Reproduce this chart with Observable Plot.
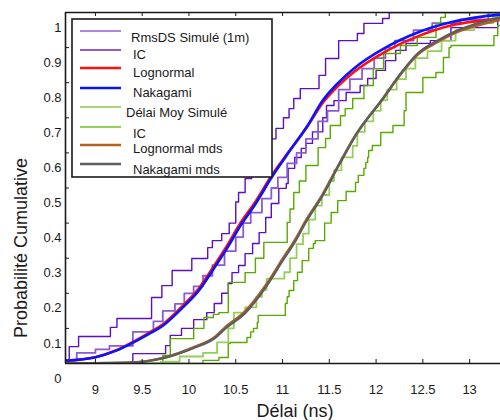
<!DOCTYPE html>
<html><head><meta charset="utf-8">
<script src="https://cdn.jsdelivr.net/npm/d3@7"></script>
<script src="https://cdn.jsdelivr.net/npm/@observablehq/plot@0.6"></script>
<style>body{margin:0;background:#fff}#chart{width:500px;height:420px}</style>
</head><body><div id="chart"></div>
<script>
// ---------- data ----------
const xTicks = [9, 9.5, 10, 10.5, 11, 11.5, 12, 12.5, 13];
const yTicks = [0, 0.1, 0.2, 0.3, 0.4, 0.5, 0.6, 0.7, 0.8, 0.9, 1];
const xTitle = "Délai (ns)";
const yTitle = "Probabilité Cumulative";

// RmsDS empirical CDF and its confidence bounds (steps: [x, F])
const rmsUpper = [[8.68,0],[8.72,0.048],[8.82,0.077],[9.16,0.103],[9.23,0.128],[9.60,0.188],[9.71,0.222],[9.82,0.265],[10.03,0.299],[10.20,0.33],[10.25,0.35],[10.35,0.37],[10.43,0.40],[10.50,0.46],[10.53,0.487],[10.60,0.527],[10.67,0.56],[10.75,0.60],[10.84,0.64],[10.93,0.67],[11.01,0.70],[11.07,0.726],[11.12,0.755],[11.19,0.783],[11.39,0.821],[11.46,0.869],[11.60,0.92],[11.80,0.94],[11.87,0.969],[12.07,0.983],[12.14,1.0],[13.33,1.0]];
const rmsEmp = [[8.68,0.01],[8.80,0.03],[9.00,0.04],[9.15,0.05],[9.40,0.09],[9.62,0.12],[9.72,0.15],[9.85,0.17],[9.95,0.20],[10.05,0.22],[10.15,0.25],[10.25,0.28],[10.38,0.32],[10.50,0.36],[10.58,0.40],[10.66,0.43],[10.78,0.47],[10.88,0.50],[10.95,0.53],[11.05,0.57],[11.15,0.60],[11.25,0.64],[11.38,0.69],[11.48,0.72],[11.60,0.78],[11.72,0.81],[11.85,0.84],[11.98,0.87],[12.10,0.90],[12.20,0.92],[12.40,0.95],[12.60,0.97],[12.90,0.98],[13.20,1.0],[13.33,1.0]];
const rmsLower = [[8.68,0],[9.40,0.028],[9.75,0.051],[9.80,0.08],[9.92,0.10],[10.05,0.125],[10.19,0.145],[10.27,0.171],[10.35,0.20],[10.42,0.228],[10.46,0.259],[10.53,0.279],[10.60,0.313],[10.68,0.342],[10.75,0.373],[10.82,0.416],[10.88,0.456],[10.96,0.499],[11.04,0.513],[11.06,0.556],[11.13,0.587],[11.20,0.613],[11.25,0.627],[11.32,0.66],[11.43,0.70],[11.47,0.735],[11.55,0.749],[11.68,0.772],[11.83,0.792],[11.91,0.812],[12.00,0.835],[12.10,0.863],[12.21,0.892],[12.32,0.912],[12.58,0.92],[12.80,0.957],[13.30,0.98],[13.33,0.98]];

// Mean delay empirical CDF and its confidence bounds
const mdsUpper = [[8.68,0],[9.72,0.023],[9.80,0.071],[10.05,0.10],[10.16,0.131],[10.26,0.14],[10.32,0.145],[10.42,0.231],[10.60,0.259],[10.71,0.30],[10.80,0.345],[11.05,0.402],[11.08,0.44],[11.12,0.487],[11.18,0.52],[11.25,0.564],[11.38,0.615],[11.46,0.641],[11.51,0.678],[11.62,0.706],[11.67,0.726],[11.75,0.755],[11.87,0.792],[11.97,0.84],[12.08,0.883],[12.26,0.906],[12.44,0.929],[12.64,0.969],[12.69,0.986],[12.74,1.0],[13.33,1.0]];
const mdsEmp = [[8.68,0],[9.70,0.005],[9.90,0.02],[10.15,0.03],[10.30,0.06],[10.42,0.10],[10.48,0.145],[10.60,0.16],[10.72,0.19],[10.78,0.21],[10.83,0.242],[11.02,0.26],[11.08,0.30],[11.15,0.34],[11.22,0.37],[11.28,0.41],[11.35,0.45],[11.42,0.48],[11.50,0.52],[11.55,0.55],[11.63,0.587],[11.75,0.62],[11.80,0.66],[11.88,0.69],[11.97,0.72],[12.05,0.75],[12.12,0.78],[12.22,0.81],[12.32,0.84],[12.42,0.87],[12.55,0.89],[12.70,0.92],[12.85,0.95],[13.05,0.97],[13.25,0.99],[13.33,0.99]];
const mdsLower = [[8.68,0],[10.15,0.009],[10.32,0.017],[10.42,0.057],[10.44,0.06],[10.62,0.074],[10.66,0.09],[10.69,0.10],[10.73,0.117],[10.74,0.137],[11.03,0.171],[11.05,0.19],[11.07,0.208],[11.12,0.236],[11.16,0.26],[11.21,0.293],[11.28,0.328],[11.33,0.342],[11.35,0.35],[11.45,0.40],[11.52,0.43],[11.59,0.464],[11.68,0.49],[11.78,0.516],[11.81,0.536],[11.87,0.556],[11.89,0.573],[11.91,0.587],[11.92,0.607],[11.96,0.621],[12.05,0.658],[12.18,0.678],[12.30,0.72],[12.32,0.772],[12.50,0.815],[12.64,0.829],[12.72,0.872],[12.78,0.90],[12.80,0.906],[13.26,0.934],[13.30,0.963],[13.33,0.963]];

// Fitted CDFs
const fitX = [8.68, 9.0, 9.215, 9.397, 9.568, 9.717, 9.931, 10.102, 10.284, 10.423, 10.53, 10.712, 10.894, 11.065, 11.268, 11.429, 11.6, 11.76, 12.081, 12.445, 12.798, 13.151, 13.332];
const lognormY = [0.008, 0.018, 0.037, 0.061, 0.087, 0.111, 0.164, 0.213, 0.285, 0.343, 0.392, 0.462, 0.540, 0.603, 0.676, 0.742, 0.792, 0.830, 0.886, 0.932, 0.963, 0.978, 0.984];
const nakaY = [0.008, 0.018, 0.036, 0.059, 0.084, 0.107, 0.159, 0.207, 0.278, 0.335, 0.384, 0.455, 0.535, 0.601, 0.678, 0.749, 0.801, 0.840, 0.897, 0.943, 0.972, 0.989, 0.994];
const fitMdsX = [8.68, 9.397, 9.75, 10.038, 10.284, 10.391, 10.605, 10.819, 11.001, 11.14, 11.247, 11.429, 11.60, 11.782, 12.081, 12.263, 12.445, 12.659, 12.873, 13.086, 13.332];
const lognormMdsY = [0.0, 0.003, 0.018, 0.045, 0.077, 0.104, 0.150, 0.222, 0.298, 0.355, 0.406, 0.482, 0.566, 0.651, 0.757, 0.824, 0.880, 0.916, 0.945, 0.963, 0.979];
const nakaMdsY = [0.0, 0.003, 0.017, 0.043, 0.074, 0.100, 0.145, 0.217, 0.293, 0.350, 0.402, 0.479, 0.564, 0.650, 0.758, 0.826, 0.883, 0.920, 0.949, 0.969, 0.986];

const legendLabels = ["RmsDS Simulé (1m)", "IC", "Lognormal", "Nakagami", "Délai Moy Simulé", "IC", "Lognormal mds", "Nakagami mds"];
// ---------- styles ----------
const C = {pDark:"#5c0fc4", pLight:"#8c5ad2", red:"#ff1010", blue:"#0a14ff", gDark:"#58aa00", gLight:"#92d05a", brown:"#b4601e", gray:"#5e5e5e"};
const legendStyles = [[C.pDark,1],[C.pLight,2],[C.red,2.5],[C.blue,2.5],[C.gDark,1],[C.gLight,2],[C.brown,2.5],[C.gray,2.5]];

const pairs = (xs, ys) => xs.map((x, i) => [x, ys[i]]);
const X = d => d[0], Y = d => d[1];
const xDom = [8.68, 13.33];
const tickLenX = 4 / 93.55, tickLenY = 4 / 351;
const font = "'Liberation Sans', Arial, sans-serif";

const chart = Plot.plot({
  width: 500, height: 420,
  marginLeft: 65, marginRight: 0, marginTop: 12, marginBottom: 57,
  style: {fontFamily: font, fontSize: "13px", color: "#1a1a1a", background: "white"},
  x: {domain: xDom},
  y: {domain: [0, 1]},
  marks: [
    Plot.line(rmsUpper, {x: X, y: Y, curve: "step-after", stroke: C.pDark, strokeWidth: 1.4, clip: true}),
    Plot.line(rmsLower, {x: X, y: Y, curve: "step-after", stroke: C.pDark, strokeWidth: 1.4, clip: true}),
    Plot.line(rmsEmp, {x: X, y: Y, curve: "step-after", stroke: C.pLight, strokeWidth: 1.8, clip: true}),
    Plot.line(mdsUpper, {x: X, y: Y, curve: "step-after", stroke: C.gDark, strokeWidth: 1.4, clip: true}),
    Plot.line(mdsLower, {x: X, y: Y, curve: "step-after", stroke: C.gDark, strokeWidth: 1.4, clip: true}),
    Plot.line(mdsEmp, {x: X, y: Y, curve: "step-after", stroke: C.gLight, strokeWidth: 1.8, clip: true}),
    Plot.line(pairs(fitX, lognormY), {x: X, y: Y, curve: "monotone-x", stroke: C.red, strokeWidth: 2.6, clip: true}),
    Plot.line(pairs(fitX, nakaY), {x: X, y: Y, curve: "monotone-x", stroke: C.blue, strokeWidth: 2.6, clip: true}),
    Plot.line(pairs(fitMdsX, lognormMdsY), {x: X, y: Y, curve: "monotone-x", stroke: C.brown, strokeWidth: 2.6, clip: true}),
    Plot.line(pairs(fitMdsX, nakaMdsY), {x: X, y: Y, curve: "monotone-x", stroke: C.gray, strokeWidth: 2.4, clip: true}),
    // frame lines
    Plot.ruleY([0, 1], {stroke: "#1a1a1a", strokeWidth: 1.6}),
    Plot.ruleX([xDom[0]], {stroke: "#1a1a1a", strokeWidth: 1.6}),
    // inward ticks
    Plot.ruleX(xTicks, {x: d => d, y1: 0, y2: tickLenY, stroke: "#1a1a1a"}),
    Plot.ruleX(xTicks, {x: d => d, y1: 1, y2: 1 - tickLenY, stroke: "#1a1a1a"}),
    Plot.ruleY(yTicks, {y: d => d, x1: xDom[0], x2: xDom[0] + tickLenX, stroke: "#1a1a1a"}),
    Plot.axisX({ticks: xTicks, tickSize: 0, tickPadding: 21, tickFormat: d => String(d), fontSize: 13, label: null}),
    Plot.axisY({ticks: yTicks, tickSize: 0, tickPadding: 4, dy: 15, tickFormat: d => String(d), fontSize: 13, label: null})
  ]
});
document.getElementById("chart").append(chart);

const svg = d3.select(chart);
// axis titles
svg.append("text").attr("x", 295).attr("y", 411).attr("dy", "0.35em").attr("text-anchor", "middle")
  .attr("font-family", font).attr("font-size", 18).attr("fill", "#1a1a1a").text(xTitle);
svg.append("text").attr("transform", "translate(21,248) rotate(-90)").attr("dy", "0.35em").attr("text-anchor", "middle")
  .attr("font-family", font).attr("font-size", 18).attr("fill", "#1a1a1a").text(yTitle);

// legend box inside the frame
const g = svg.append("g").attr("font-family", font).attr("font-size", 13).attr("fill", "#1a1a1a").attr("text-anchor", "start");
g.append("rect").attr("x", 72).attr("y", 19).attr("width", 200).attr("height", 158)
  .attr("fill", "white").attr("stroke", "#1a1a1a").attr("stroke-width", 1.6);
const lineY = [31, 50, 68, 88, 107, 127, 145, 164];
const textY = [37, 54, 72, 92, 112, 133, 148, 169];
const textX = [131, 133, 133, 133, 126, 133, 133, 133];
legendLabels.forEach((lab, i) => {
  g.append("line").attr("x1", 80).attr("x2", 121).attr("y1", lineY[i]).attr("y2", lineY[i])
    .attr("stroke", legendStyles[i][0]).attr("stroke-width", legendStyles[i][1]);
  g.append("text").attr("x", textX[i]).attr("y", textY[i]).attr("dy", "0.35em").attr("text-anchor", "start").text(lab);
});
</script></body></html>
